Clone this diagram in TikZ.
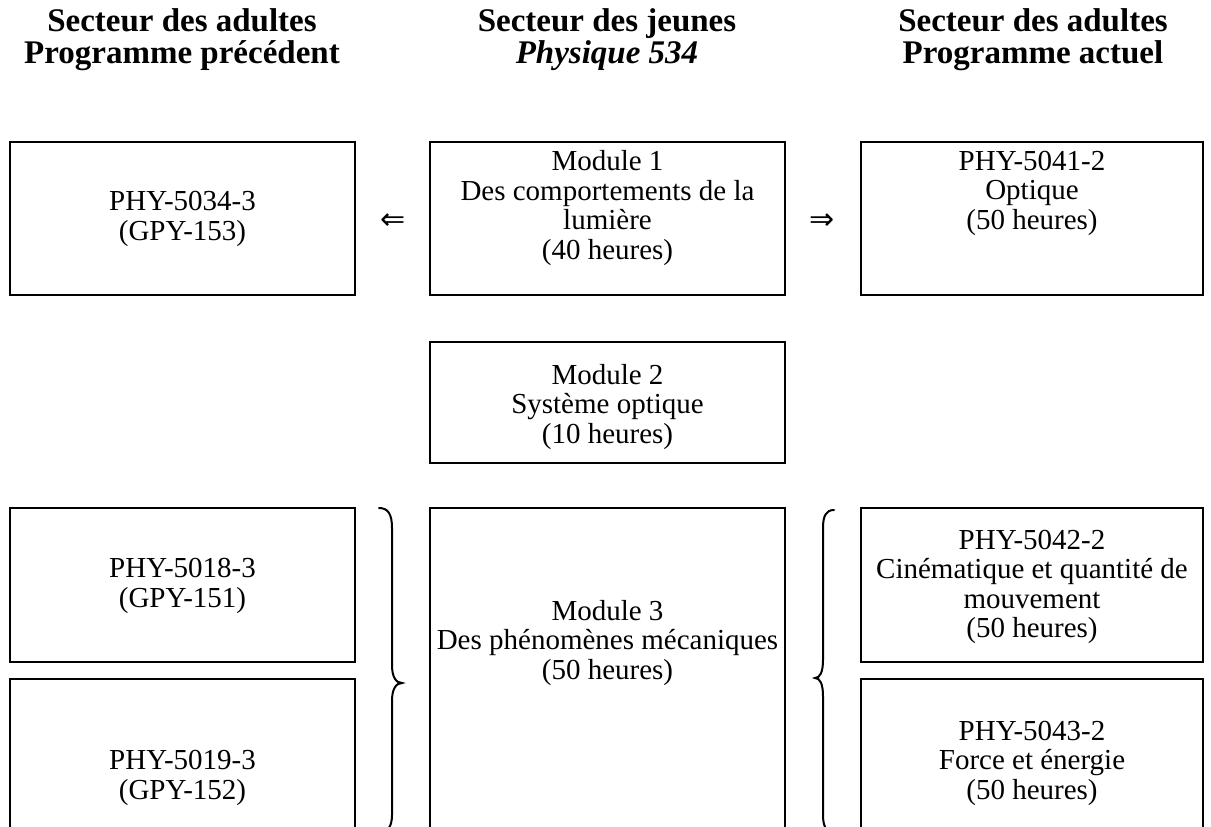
\documentclass[tikz,border=0pt]{standalone}
\usepackage{fontspec}
\setmainfont{Liberation Serif}
\newfontfamily\arrowfont{DejaVu Sans}
\begin{document}
\begin{tikzpicture}[x=1pt,y=-1pt,
  box/.style={draw,line width=2pt,inner sep=0pt},
  txt/.style={align=center,inner sep=0pt,font=\fontsize{29}{29.5}\selectfont},
  hdr/.style={align=center,inner sep=0pt,font=\fontsize{33}{32}\selectfont\bfseries},
  arr/.style={inner sep=0pt,font=\arrowfont\fontsize{30}{30}\selectfont},
  brace/.style={line width=2pt,line cap=round}]
\clip (0,0) rectangle (1211,827);
\fill[white] (0,0) rectangle (1211,827);
% headers
\node[hdr] (h1) at (182,40) {Secteur des adultes\\Programme précédent};
\node[hdr] (h2) at (607,40) {Secteur des jeunes\\\textit{Physique 534}};
\node[hdr] (h3) at (1033,40) {Secteur des adultes\\Programme actuel};
% boxes
\node[box,minimum width=345pt,minimum height=153pt] (lt) at (182.5,218.5) {};
\node[box,minimum width=355pt,minimum height=153pt] (mt) at (607.5,218.5) {};
\node[box,minimum width=342pt,minimum height=153pt] (rt) at (1032,218.5) {};
\node[box,minimum width=355pt,minimum height=121pt] (m2) at (607.5,402.5) {};
\node[box,minimum width=345pt,minimum height=154pt] (lb1) at (182.5,585) {};
\node[box,minimum width=345pt,minimum height=160pt] (lb2) at (182.5,759) {};
\node[box,minimum width=355pt,minimum height=330pt] (m3) at (607.5,673) {};
\node[box,minimum width=342pt,minimum height=154pt] (rb1) at (1032,585) {};
\node[box,minimum width=342pt,minimum height=160pt] (rb2) at (1032,759) {};
% texts
\node[txt] (tlt) at (182.5,219) {PHY-5034-3\\(GPY-153)};
\node[txt] (tmt) at (607.5,208) {Module 1\\Des comportements de la\\lumière\\(40 heures)};
\node[txt] (trt) at (1032,193) {PHY-5041-2\\Optique\\(50 heures)};
\node[txt] (tm2) at (607.5,407) {Module 2\\Système optique\\(10 heures)};
\node[txt] (tlb1) at (182.5,586) {PHY-5018-3\\(GPY-151)};
\node[txt] (tlb2) at (182.5,778) {PHY-5019-3\\(GPY-152)};
\node[txt] (tm3) at (607.5,643) {Module 3\\Des phénomènes mécaniques\\(50 heures)};
\node[txt] (trb1) at (1032,587) {PHY-5042-2\\Cinématique et quantité de\\mouvement\\(50 heures)};
\node[txt] (trb2) at (1032,763) {PHY-5043-2\\Force et énergie\\(50 heures)};
% arrows
\node[arr] (al) at (393,222) {⇐};
\node[arr] (ar) at (822,222) {⇒};
% braces
\draw[brace] (379,508) .. controls (388,508) and (392,514) .. (392,528) -- (392,665)
  .. controls (392,677) and (396,683) .. (402,683)
  .. controls (396,683) and (392,689) .. (392,701) -- (392,815)
  .. controls (392,826) and (388,832) .. (380,834);
\draw[brace] (834,510) .. controls (826,510) and (823,516) .. (823,528) -- (823,660)
  .. controls (823,672) and (820,678) .. (815,678)
  .. controls (820,678) and (823,684) .. (823,696) -- (823,815)
  .. controls (823,826) and (826,832) .. (834,834);
\end{tikzpicture}
\end{document}
